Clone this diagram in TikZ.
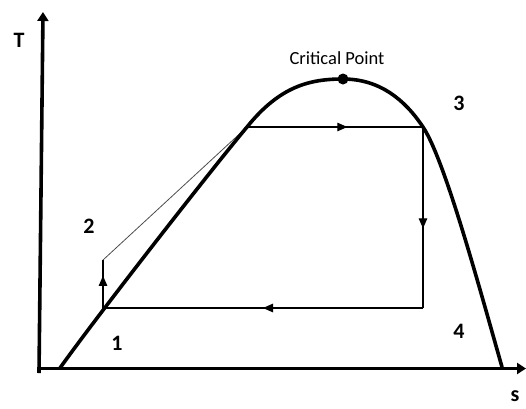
\documentclass[tikz,border=0pt]{standalone}
\usepackage{fontspec}
\setmainfont{Liberation Sans}
\newfontfamily\calib{Carlito}
\usetikzlibrary{arrows.meta,decorations.markings}
\begin{document}
\begin{tikzpicture}[x=1pt,y=-1pt,
  axis/.style={line width=3.6pt,-{Triangle[length=9pt,width=11pt]}},
  sat/.style={line width=3.6pt,line cap=round},
  cyc/.style={line width=1.1pt},
  diag/.style={line width=0.8pt,black!70},
  midarrow/.style={postaction={decorate},decoration={markings,mark=at position #1 with {\arrow{Triangle[length=10pt,width=8.5pt]}}}},
  lbl/.style={font=\calib\fontsize{22}{24}\selectfont\bfseries,inner sep=0pt},
  cp/.style={font=\calib\fontsize{18.5}{20}\selectfont,inner sep=0pt}]
\useasboundingbox (0,0) rectangle (526,408);
% coordinates
\coordinate (ybot) at (39,373);
\coordinate (ytop) at (43,12);
\coordinate (xstart) at (37,368.5);
\coordinate (xend) at (526,368.5);
\coordinate (A) at (60,368);
\coordinate (p1) at (103,308);
\coordinate (p2) at (103,260);
\coordinate (pB) at (247,127);
\coordinate (C) at (343,79);
\coordinate (p3) at (423,127);
\coordinate (p4) at (423,308);
\coordinate (E) at (502,367);
% cycle
\draw[cyc,midarrow=0.67] (p1) -- (p2);
\draw[diag] (p2) -- (pB);
\draw[cyc,midarrow=0.57] (pB) -- (p3);
\draw[cyc,midarrow=0.56] (p3) -- (p4);
\draw[cyc,midarrow=0.5] (p4) -- (p1);
% saturation dome
\draw[sat] (A) .. controls (100,312) and (215,165) .. (pB)
  .. controls (280,86) and (310,79) .. (C)
  .. controls (380,79) and (405,100) .. (p3)
  .. controls (445,160) and (480,290) .. (E);
\fill (C) circle (5.5pt);
% axes
\draw[axis] (ybot) -- (ytop);
\draw[axis] (xstart) -- (xend);
% labels
\node[lbl] (lT) at (19,40) {T};
\node[lbl] (ls) at (515,396) {s};
\node[lbl] (l1) at (117,343) {1};
\node[lbl] (l2) at (89,226) {2};
\node[lbl] (l3) at (459,103) {3};
\node[lbl] (l4) at (459,331) {4};
\node[cp] (lcp) at (337,58) {Critical Point};
\end{tikzpicture}
\end{document}
